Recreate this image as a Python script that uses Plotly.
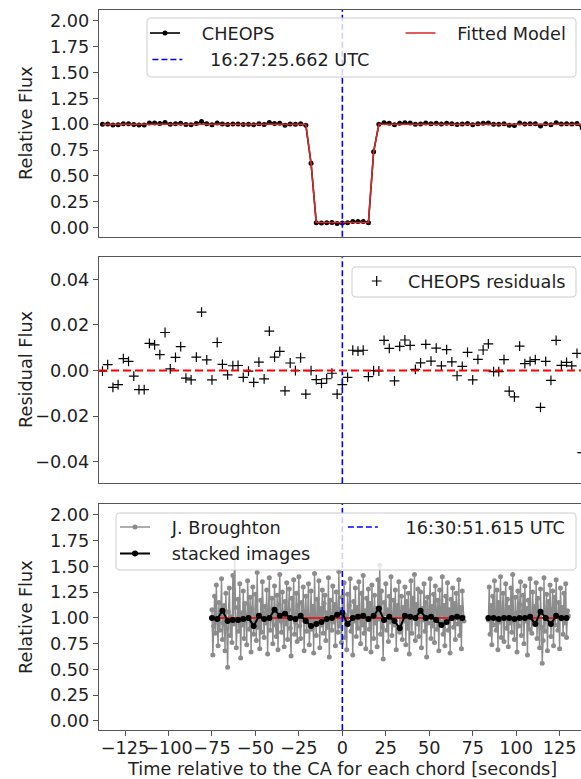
import plotly.graph_objects as go

# ---------------- data ----------------
CA_TIME = 0.0          # closest approach (seconds)
TOP_UTC = "16:27:25.662 UTC"
BOT_UTC = "16:30:51.615 UTC"

# CHEOPS: 3 s cadence starting at -138 s
CHEOPS_T0 = -138
CHEOPS_DT = 3
cheops_residuals = [
    -0.0003, 0.0026, -0.0074, -0.0062, 0.0052, 0.0040, -0.0025, -0.0084, -0.0084, 0.0119,
    0.0113, 0.0070, 0.0167, 0.0007, 0.0058, 0.0105, -0.0033, -0.0041, 0.0059, 0.0256,
    0.0047, -0.0041, 0.0123, 0.0027, -0.0019, 0.0021, 0.0022, -0.0030, -0.0003, -0.0052,
    0.0037, -0.0037, 0.0173, 0.0059, 0.0084, -0.0089, 0.0033, 0.0000, 0.0056, -0.0104,
    0.0000, -0.0040, -0.0056, -0.0036, -0.0012, -0.0104, -0.0062, -0.0030, 0.0089, 0.0085,
    0.0089, -0.0027, 0.0000, -0.0002, 0.0132, 0.0097, -0.0045, 0.0106, 0.0134, 0.0110,
    0.0005, 0.0034, 0.0115, 0.0041, 0.0098, 0.0020, 0.0092, 0.0038, -0.0023, 0.0018,
    0.0080, -0.0041, 0.0049, 0.0090, 0.0117, -0.0005, -0.0005, 0.0048, -0.0090, -0.0116,
    0.0107, 0.0030, 0.0040, 0.0048, -0.0162, 0.0040, -0.0043, 0.0132, 0.0023, 0.0036,
    0.0020, 0.0075, -0.0360,
]
cheops_model = [1.0] * 40 + [0.622] + [0.05] * 11 + [0.734] + [1.0] * 40

# J. Broughton: 0.5 s cadence, two segments
BROUGHTON_LEFT_T0 = -75
BROUGHTON_RIGHT_T0 = 84
BROUGHTON_DT = 0.5
broughton_left = [
    1.08, 0.64, 0.92, 1.21, 0.85, 1.32, 0.97, 0.73, 1.15, 0.88,
    1.02, 1.38, 0.79, 0.95, 1.12, 0.68, 1.24, 0.90, 0.52, 1.06,
    1.29, 0.83, 1.01, 0.76, 1.41, 0.94, 1.68, 1.10, 0.71, 0.98,
    1.18, 0.87, 1.33, 0.61, 1.05, 0.93, 1.26, 0.80, 1.14, 0.99,
    0.74, 1.36, 1.03, 0.89, 1.20, 0.67, 1.09, 1.30, 0.84, 0.96,
    1.23, 0.78, 1.44, 0.91, 1.00, 0.70, 1.17, 0.86, 1.35, 1.04,
    0.81, 1.11, 0.95, 1.27, 0.65, 1.07, 1.39, 0.88, 0.99, 1.19,
    0.75, 1.02, 1.31, 0.93, 0.82, 1.22, 0.69, 1.13, 1.42, 0.97,
    0.86, 1.25, 1.05, 0.72, 1.16, 0.94, 1.34, 0.79, 1.08, 1.28,
    0.90, 0.63, 1.19, 1.01, 1.37, 0.84, 0.96, 1.24, 0.77, 1.12,
    1.40, 0.92, 0.80, 1.15, 0.98, 1.30, 0.68, 1.06, 1.21, 0.87,
    1.03, 1.33, 0.74, 0.95, 1.26, 0.89, 1.11, 0.66, 1.43, 1.00,
    0.83, 1.18, 0.97, 1.36, 0.71, 1.09, 0.93, 1.27, 0.85, 1.14,
    1.22, 0.78, 1.05, 0.91, 1.39, 0.62, 1.17, 1.00, 0.88, 1.31,
    0.96, 1.13, 0.73, 1.25, 1.04, 0.86, 1.45, 0.92, 1.08, 0.76,
    1.20, 0.99, 1.34, 0.81, 1.02, 0.69, 1.23, 0.94, 1.12, 1.38,
    0.87, 1.06, 0.64, 1.16, 0.97, 1.29, 0.82, 1.10, 0.90, 1.35,
    1.01, 0.75, 1.24, 0.93, 1.41, 0.85, 1.07, 0.70, 1.19, 0.98,
    1.28, 0.89, 1.14, 0.67, 1.32, 1.03, 0.80, 1.22, 0.95, 1.09,
    0.72, 1.37, 0.99, 1.51, 0.84, 1.26, 0.91, 0.60, 1.15, 1.04,
    1.33, 0.88, 1.08, 0.77, 1.21, 0.96, 1.40, 0.83, 1.00, 1.17,
    0.93, 1.27, 0.69, 1.12, 1.02, 1.35, 0.86, 1.05, 1.21, 0.79,
    1.10, 0.97, 1.30, 0.74, 1.16, 0.90, 1.24, 0.65, 1.07, 1.36,
    0.85, 1.19, 1.01, 1.42, 0.78, 1.13, 0.94, 1.28, 0.82, 1.03,
    1.25, 0.71, 1.09, 0.98, 1.33, 0.87, 1.15, 0.62, 1.20, 0.95,
    1.06, 1.38, 0.80, 1.11, 0.92, 1.23, 0.76, 1.31, 1.00, 0.89,
    1.17, 0.68, 1.27, 0.96, 1.04, 1.40, 0.84, 1.12, 0.73, 1.21,
    0.99, 1.34, 0.88, 1.08, 0.66, 1.18, 1.02, 1.29, 0.91, 1.14,
    0.79, 1.24, 1.05, 0.94, 1.37, 0.83, 1.10, 0.70, 1.26, 1.01,
    0.97,
]
broughton_right = [
    0.98, 1.30, 0.84, 1.12, 0.74, 1.21, 0.93, 1.36, 1.03, 0.88,
    1.27, 0.69, 1.15, 0.96, 1.40, 0.81, 1.07, 1.24, 0.77, 1.01,
    1.33, 0.90, 1.18, 0.72, 1.10, 0.95, 1.29, 0.86, 1.42, 0.99,
    0.79, 1.20, 1.04, 0.67, 1.26, 0.92, 1.13, 1.35, 0.83, 1.06,
    1.22, 0.75, 1.31, 0.97, 1.09, 0.64, 1.17, 0.89, 1.38, 1.00,
    0.85, 1.25, 0.96, 1.11, 0.94, 1.34, 0.80, 1.19, 1.02, 0.71,
    1.28, 0.91, 0.56, 0.78, 1.39, 0.87, 1.05, 1.23, 0.68, 1.16,
    0.96, 1.32, 0.82, 1.08, 1.26, 0.73, 1.20, 0.93, 1.37, 1.03,
    0.88, 1.15, 0.70, 1.29, 0.99, 1.10, 0.84, 1.24, 0.95, 1.33,
    0.81, 1.07, 1.02,
]

# stacked images: 3 s cadence, two segments
STACK_DT = 3
stacked_left = [
    1.00, 0.99, 1.07, 0.97, 0.98, 0.98, 0.99, 1.00, 0.92, 1.02,
    0.99, 1.00, 1.08, 1.02, 1.04, 1.00, 0.99, 1.02, 0.97, 0.92,
    0.94, 0.96, 0.99, 1.00, 1.03, 1.05, 0.94, 1.00, 1.01, 1.02,
    0.99, 1.02, 1.09, 0.98, 1.01, 0.97, 0.90, 1.02, 1.01, 1.00,
    1.07, 1.00, 1.01, 0.98, 0.93, 0.96, 1.00, 1.01, 1.00,
]
stacked_right = [
    1.00, 1.00, 0.99, 1.00, 1.00, 0.99, 1.00, 1.00, 1.01, 0.94,
    1.06, 1.00, 0.94, 1.02, 1.00, 1.00,
]
BROUGHTON_MODEL_LEVEL = 1.0

# ---------------- derived series ----------------
cheops_time = [CHEOPS_T0 + CHEOPS_DT * i for i in range(len(cheops_residuals))]
cheops_flux = [m + r for m, r in zip(cheops_model, cheops_residuals)]

bl_t = [BROUGHTON_LEFT_T0 + BROUGHTON_DT * i for i in range(len(broughton_left))]
br_t = [BROUGHTON_RIGHT_T0 + BROUGHTON_DT * i for i in range(len(broughton_right))]
b_x = bl_t + [None] + br_t
b_y = broughton_left + [None] + broughton_right

sl_t = [BROUGHTON_LEFT_T0 + STACK_DT * i for i in range(len(stacked_left))]
sr_t = [BROUGHTON_RIGHT_T0 + STACK_DT * i for i in range(len(stacked_right))]
s_x = sl_t + [None] + sr_t
s_y = stacked_left + [None] + stacked_right

bm_x = [bl_t[0], bl_t[-1], None, br_t[0], br_t[-1]]
bm_y = [BROUGHTON_MODEL_LEVEL] * 2 + [None] + [BROUGHTON_MODEL_LEVEL] * 2

# ---------------- style / geometry ----------------
FONT = "DejaVu Sans"
FS = 17.7
TXT = "#1f1f1f"
SPINE = "#555555"
W, H = 581, 779
ML, MR, MT, MB = 99, 0, 10, 49
PW = W - ML - MR
PH = H - MT - MB
NB = "\u00a0"


def px_x(p):
    return (p - ML) / PW


def px_y(p):
    return (H - MB - p) / PH


XR = [-140, 137.3]
Y_FLUX = [-0.088, 2.105]
Y_RES = [-0.0495, 0.0497]

fig = go.Figure()

# top panel
fig.add_trace(go.Scatter(x=cheops_time, y=cheops_flux, mode="lines+markers",
                         name=NB * 3 + "CHEOPS", line=dict(color="black", width=1.6),
                         marker=dict(color="black", size=5), xaxis="x", yaxis="y",
                         legend="legend"))
fig.add_trace(go.Scatter(x=cheops_time, y=cheops_model, mode="lines",
                         name=NB * 3 + "Fitted Model", line=dict(color="#d62728", width=1.6),
                         xaxis="x", yaxis="y", legend="legend3"))
fig.add_trace(go.Scatter(x=[None], y=[None], mode="lines", name=NB * 4 + TOP_UTC,
                         line=dict(color="blue", width=1.6, dash="6px,3px"),
                         xaxis="x", yaxis="y", legend="legend2"))
# middle panel
fig.add_trace(go.Scatter(x=cheops_time, y=cheops_residuals, mode="markers",
                         name=NB * 2 + "CHEOPS residuals",
                         marker=dict(symbol="cross-thin", size=7, color="black",
                                     line=dict(width=1.2, color="black")),
                         xaxis="x2", yaxis="y2", legend="legend4"))
# bottom panel
fig.add_trace(go.Scatter(x=b_x, y=b_y, mode="lines+markers", name=NB * 3 + "J. Broughton",
                         line=dict(color="#8c8c8c", width=1.4),
                         marker=dict(color="#8c8c8c", size=5), xaxis="x3", yaxis="y3",
                         legend="legend5"))
fig.add_trace(go.Scatter(x=bm_x, y=bm_y, mode="lines", showlegend=False,
                         line=dict(color="#d62728", width=2), xaxis="x3", yaxis="y3"))
fig.add_trace(go.Scatter(x=s_x, y=s_y, mode="lines+markers", name=NB * 3 + "stacked images",
                         line=dict(color="black", width=2),
                         marker=dict(color="black", size=6), xaxis="x3", yaxis="y3",
                         legend="legend6"))
fig.add_trace(go.Scatter(x=[None], y=[None], mode="lines", name=NB * 4 + BOT_UTC,
                         line=dict(color="blue", width=1.6, dash="6px,3px"),
                         xaxis="x3", yaxis="y3", legend="legend7"))

tickfont = dict(family=FONT, size=FS, color=TXT)


def xaxis(anchor, labels):
    return dict(domain=[0, 1], anchor=anchor, range=XR, showline=True, linecolor=SPINE,
                linewidth=1.2, mirror=True, ticks="outside" if labels else "",
                ticklen=5, tickwidth=1.2, tickcolor=SPINE, showticklabels=labels,
                tick0=0, dtick=25, tickangle=0, ticklabelstandoff=-3,
                showgrid=False, zeroline=False, tickfont=tickfont, automargin=False)


def yaxis(anchor, dom, rng, dtick):
    return dict(domain=dom, anchor=anchor, range=rng, showline=True, linecolor=SPINE,
                linewidth=1.2, mirror=False, ticks="outside", ticklen=5, tickwidth=1.2,
                tickcolor=SPINE, tick0=0, dtick=dtick, tickformat=".2f", showgrid=False,
                zeroline=False, tickfont=tickfont, automargin=False)


def vline(xr, yr):
    return dict(type="line", xref=xr, yref=yr + " domain", x0=CA_TIME, x1=CA_TIME, y0=0, y1=1,
                line=dict(color="blue", width=1.6, dash="6px,3px"), layer="above")


def rbox(x0, y0, x1, y1, r=4):
    pts = [("M", x0 + r, y0), ("L", x1 - r, y0), ("Q", x1, y0, x1, y0 + r),
           ("L", x1, y1 - r), ("Q", x1, y1, x1 - r, y1), ("L", x0 + r, y1),
           ("Q", x0, y1, x0, y1 - r), ("L", x0, y0 + r), ("Q", x0, y0, x0 + r, y0)]
    parts = []
    for p in pts:
        cmd = p[0]
        coords = p[1:]
        cs = []
        for i in range(0, len(coords), 2):
            cs.append(f"{px_x(coords[i]):.5f},{px_y(coords[i + 1]):.5f}")
        parts.append(cmd + " ".join(cs))
    return dict(type="path", xref="paper", yref="paper", path=" ".join(parts) + " Z",
                fillcolor="rgba(255,255,255,0.8)", line=dict(color="#cccccc", width=1),
                layer="above")


def legend(lpx, ypx):
    return dict(x=px_x(lpx), y=px_y(ypx), xanchor="left", yanchor="middle",
                bgcolor="rgba(0,0,0,0)", borderwidth=0,
                font=dict(family=FONT, size=FS, color=TXT))


shapes = [
    vline("x", "y"),
    vline("x2", "y2"),
    dict(type="line", xref="x2 domain", yref="y2", x0=0, x1=1, y0=0, y1=0,
         line=dict(color="red", width=2, dash="8px,4px"), layer="above"),
    vline("x3", "y3"),
    rbox(147, 18, 576, 77),
    rbox(352, 267, 576, 297),
    rbox(116, 513, 576, 570),
]

annotations = [
    dict(text="Relative Flux", x=px_x(26), y=px_y(123), xref="paper", yref="paper",
         textangle=-90, showarrow=False, xanchor="center", yanchor="middle",
         font=dict(family=FONT, size=FS, color=TXT)),
    dict(text="Residual Flux", x=px_x(26), y=px_y(370), xref="paper", yref="paper",
         textangle=-90, showarrow=False, xanchor="center", yanchor="middle",
         font=dict(family=FONT, size=FS, color=TXT)),
    dict(text="Relative Flux", x=px_x(26), y=px_y(617), xref="paper", yref="paper",
         textangle=-90, showarrow=False, xanchor="center", yanchor="middle",
         font=dict(family=FONT, size=FS, color=TXT)),
    dict(text="Time relative to the CA for each chord [seconds]", x=px_x(341.5),
         y=px_y(769), xref="paper", yref="paper", showarrow=False, xanchor="center",
         yanchor="middle", font=dict(family=FONT, size=FS, color=TXT)),
]

fig.update_layout(
    width=W, height=H,
    margin=dict(l=ML, r=MR, t=MT, b=MB, autoexpand=False),
    paper_bgcolor="white", plot_bgcolor="white",
    font=dict(family=FONT, size=FS, color=TXT),
    xaxis=xaxis("y", False),
    xaxis2=xaxis("y2", False),
    xaxis3=xaxis("y3", True),
    yaxis=yaxis("x", [px_y(236.7), px_y(10)], Y_FLUX, 0.25),
    yaxis2=yaxis("x2", [px_y(483.3), px_y(257.3)], Y_RES, 0.02),
    yaxis3=yaxis("x3", [px_y(730), px_y(504)], Y_FLUX, 0.25),
    shapes=shapes,
    annotations=annotations,
    legend=legend(145, 33.5),
    legend2=legend(147.4, 60),
    legend3=legend(400.5, 33.5),
    legend4=legend(356.7, 281.5),
    legend5=legend(115, 527.5),
    legend6=legend(115, 554),
    legend7=legend(342.9, 527.5),
    showlegend=True,
)

fig.write_html("out.html", config={"displayModeBar": False},
               post_script="document.body.style.margin='0px';document.body.style.overflow='hidden';")
